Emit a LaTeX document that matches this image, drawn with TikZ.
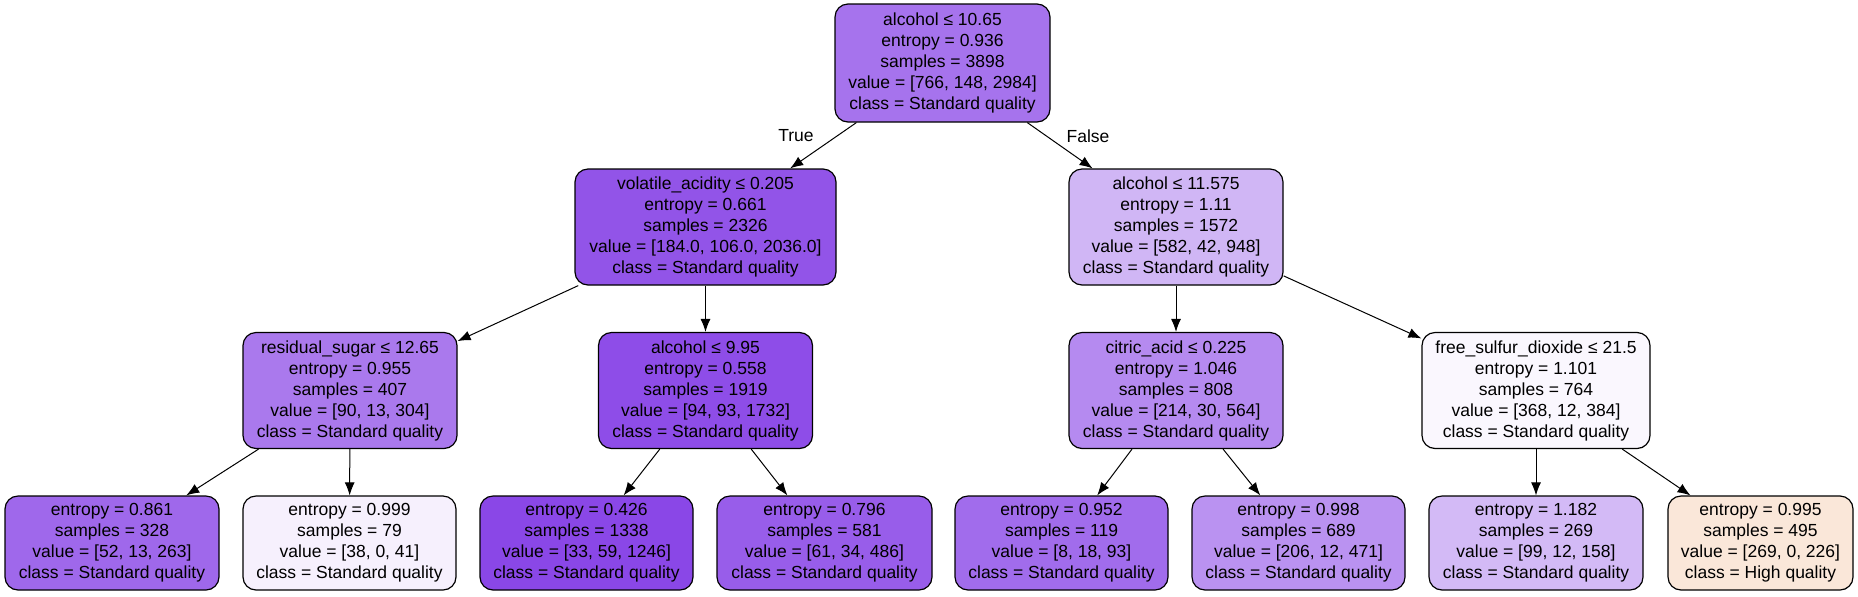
\documentclass[tikz,border=0pt]{standalone}
\usepackage{fontspec}
\setmainfont{Liberation Sans}
\usetikzlibrary{arrows.meta}
\definecolor{cRoot}{RGB}{166,115,237}
\definecolor{cA}{RGB}{146,84,232}
\definecolor{cB}{RGB}{208,182,245}
\definecolor{cC}{RGB}{170,121,237}
\definecolor{cD}{RGB}{142,77,232}
\definecolor{cE}{RGB}{181,138,240}
\definecolor{cF}{RGB}{250,247,254}
\definecolor{cL1}{RGB}{159,104,235}
\definecolor{cL2}{RGB}{246,240,253}
\definecolor{cL3}{RGB}{138,71,231}
\definecolor{cL4}{RGB}{152,93,234}
\definecolor{cL5}{RGB}{161,108,236}
\definecolor{cL6}{RGB}{186,146,241}
\definecolor{cL7}{RGB}{211,186,246}
\definecolor{cL8}{RGB}{250,231,217}
\tikzset{
  tnode/.style={draw=black, line width=0.6pt, rounded corners=6.5pt, inner sep=0pt,
    align=center, font=\fontsize{8.75}{10.5}\selectfont, text=black},
  inner/.style={tnode, minimum height=58pt},
  leaf/.style={tnode, minimum height=47pt},
  edge/.style={line width=0.5pt, -{Latex[length=6.5pt,width=5pt]}},
  lbl/.style={font=\fontsize{8.75}{10.5}\selectfont, inner sep=0pt}
}
\begin{document}
\begin{tikzpicture}[x=0.5pt,y=-0.5pt]
\useasboundingbox (0,0) rectangle (1858,596);
\node[inner, fill=cRoot, minimum width=107.5pt, minimum height=59pt] (root) at (942.5,63)
  {alcohol ≤ 10.65\\entropy = 0.936\\samples = 3898\\value = [766, 148, 2984]\\class = Standard quality};
\node[inner, fill=cA, minimum width=130.5pt] (n1) at (705.5,227)
  {volatile\_acidity ≤ 0.205\\entropy = 0.661\\samples = 2326\\value = [184.0, 106.0, 2036.0]\\class = Standard quality};
\node[inner, fill=cB, minimum width=107pt] (n8) at (1176,227)
  {alcohol ≤ 11.575\\entropy = 1.11\\samples = 1572\\value = [582, 42, 948]\\class = Standard quality};
\node[inner, fill=cC, minimum width=107pt] (n2) at (350,390.5)
  {residual\_sugar ≤ 12.65\\entropy = 0.955\\samples = 407\\value = [90, 13, 304]\\class = Standard quality};
\node[inner, fill=cD, minimum width=107pt] (n5) at (705.5,390.5)
  {alcohol ≤ 9.95\\entropy = 0.558\\samples = 1919\\value = [94, 93, 1732]\\class = Standard quality};
\node[inner, fill=cE, minimum width=107pt] (n9) at (1176,390.5)
  {citric\_acid ≤ 0.225\\entropy = 1.046\\samples = 808\\value = [214, 30, 564]\\class = Standard quality};
\node[inner, fill=cF, minimum width=114pt] (n12) at (1536,390.5)
  {free\_sulfur\_dioxide ≤ 21.5\\entropy = 1.101\\samples = 764\\value = [368, 12, 384]\\class = Standard quality};
\node[leaf, fill=cL1, minimum width=107pt] (l3) at (112,543)
  {entropy = 0.861\\samples = 328\\value = [52, 13, 263]\\class = Standard quality};
\node[leaf, fill=cL2, minimum width=106.5pt] (l4) at (349.5,543)
  {entropy = 0.999\\samples = 79\\value = [38, 0, 41]\\class = Standard quality};
\node[leaf, fill=cL3, minimum width=106.5pt] (l6) at (586.5,543)
  {entropy = 0.426\\samples = 1338\\value = [33, 59, 1246]\\class = Standard quality};
\node[leaf, fill=cL4, minimum width=107.5pt] (l7) at (824.5,543)
  {entropy = 0.796\\samples = 581\\value = [61, 34, 486]\\class = Standard quality};
\node[leaf, fill=cL5, minimum width=106.5pt] (l10) at (1061.5,543)
  {entropy = 0.952\\samples = 119\\value = [8, 18, 93]\\class = Standard quality};
\node[leaf, fill=cL6, minimum width=106.5pt] (l11) at (1298.5,543)
  {entropy = 0.998\\samples = 689\\value = [206, 12, 471]\\class = Standard quality};
\node[leaf, fill=cL7, minimum width=107pt] (l13) at (1536,543)
  {entropy = 1.182\\samples = 269\\value = [99, 12, 158]\\class = Standard quality};
\node[leaf, fill=cL8, minimum width=92.5pt] (l14) at (1760.5,543)
  {entropy = 0.995\\samples = 495\\value = [269, 0, 226]\\class = High quality};
\draw[edge] (root) -- (n1);
\draw[edge] (root) -- (n8);
\draw[edge] (n1) -- (n2);
\draw[edge] (n1) -- (n5);
\draw[edge] (n8) -- (n9);
\draw[edge] (n8) -- (n12);
\draw[edge] (n2) -- (l3);
\draw[edge] (n2) -- (l4);
\draw[edge] (n5) -- (l6);
\draw[edge] (n5) -- (l7);
\draw[edge] (n9) -- (l10);
\draw[edge] (n9) -- (l11);
\draw[edge] (n12) -- (l13);
\draw[edge] (n12) -- (l14);
\node[lbl] (tT) at (796,136) {True};
\node[lbl] (tF) at (1088,136) {False};
\end{tikzpicture}
\end{document}
